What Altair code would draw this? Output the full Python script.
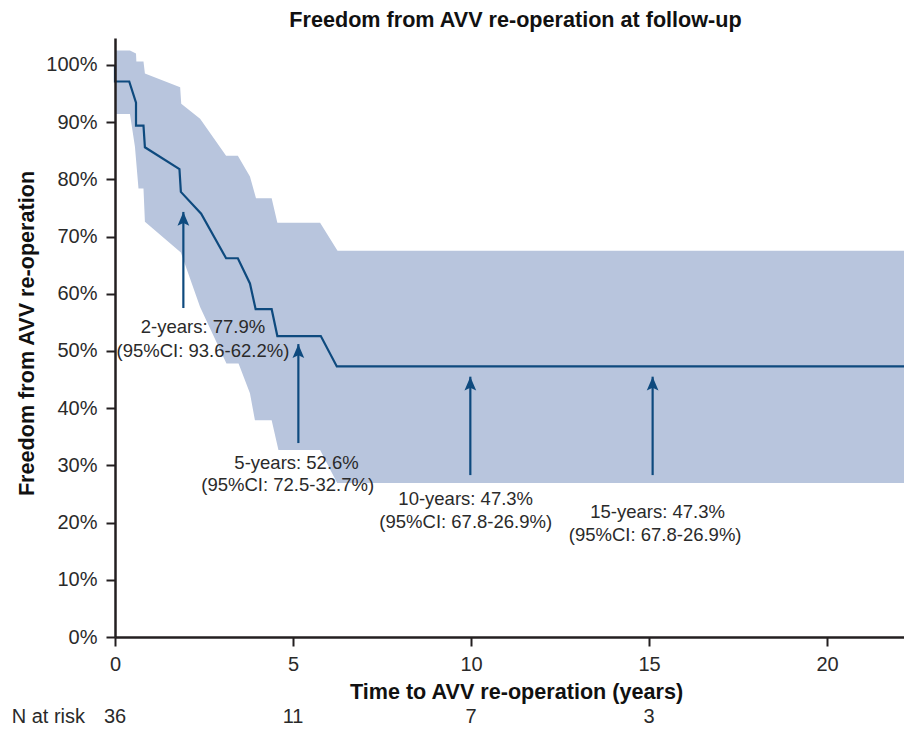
import altair as alt
import pandas as pd

# Kaplan-Meier estimate (years, %)
km_t = [0, 0.0, 0.40, 0.59, 0.59, 0.80, 0.84, 1.81, 1.85, 2.42, 3.12, 3.45, 3.79, 3.95, 4.40, 4.56, 5.78, 6.23, 22.16]
km_s = [100, 97.1, 97.1, 93.4, 89.4, 89.4, 85.6, 81.8, 77.8, 74.0, 66.2, 66.2, 61.8, 57.3, 57.3, 52.6, 52.6, 47.3, 47.3]

# 95% CI upper boundary
up_t = [0, 0.42, 0.59, 0.60, 0.80, 0.84, 1.83, 1.86, 2.39, 3.12, 3.45, 3.79, 3.96, 4.40, 4.56, 5.76, 6.25, 22.16]
up_s = [102.5, 102.5, 102.0, 100.6, 100.6, 98.5, 96.1, 93.2, 90.6, 84.1, 84.1, 80.5, 76.7, 76.7, 72.4, 72.4, 67.5, 67.5]

# 95% CI lower boundary
lo_t = [0, 0.42, 0.56, 0.66, 0.80, 0.84, 1.85, 2.39, 3.13, 3.47, 3.79, 3.93, 4.40, 4.59, 5.76, 6.24, 22.16]
lo_s = [91.4, 91.4, 85.7, 78.4, 78.4, 72.6, 67.2, 57.7, 47.8, 47.8, 42.6, 37.9, 37.9, 32.7, 32.7, 26.9, 26.9]

# Arrows (x, from, to)
arrow_x = [1.92, 5.15, 9.98, 15.1]
arrow_from = [57.5, 33.9, 28.3, 28.3]
arrow_to = [74.3, 51.2, 45.5, 45.5]

# Annotation text lines
ann_text = ["2-years: 77.9%", "(95%CI: 93.6-62.2%)",
            "5-years: 52.6%", "(95%CI: 72.5-32.7%)",
            "10-years: 47.3%", "(95%CI: 67.8-26.9%)",
            "15-years: 47.3%", "(95%CI: 67.8-26.9%)"]
ann_x = [2.47, 2.47, 5.10, 4.85, 9.85, 9.85, 15.24, 15.17]
ann_y = [54.2, 50.0, 30.4, 26.6, 24.1, 20.1, 21.9, 17.8]

# Numbers at risk
risk_t = [0, 5, 10, 15]
risk_n = ["36", "11", "7", "3"]

FONT = "Liberation Sans"
BAND = "#b8c5dd"
LINE = "#0e4a7e"
TXT = "#2a2a2a"

X_MAX = 22.16
xs = alt.Scale(domain=[0, X_MAX], nice=False, zero=False)
ys = alt.Scale(domain=[0, 104.7], nice=False)

km = pd.DataFrame({"t": km_t, "s": km_s, "o": range(len(km_t))})
up = pd.DataFrame({"t": up_t, "s": up_s, "z": [0] * len(up_t)})
lo = pd.DataFrame({"t": lo_t, "s": lo_s, "z": [0] * len(lo_t)})
arr = pd.DataFrame({"t": arrow_x, "a": arrow_from, "b": arrow_to})
ann = pd.DataFrame({"t": ann_x, "s": ann_y, "txt": ann_text})
risk = pd.DataFrame({"t": risk_t, "n": risk_n})

x_axis = alt.Axis(values=[0, 5, 10, 15, 20], title="Time to AVV re-operation (years)",
                  grid=False, labelFontSize=20, labelFont=FONT, labelColor=TXT,
                  labelPadding=8, labelFlush=False, tickSize=9, tickWidth=2, tickColor="#231f20",
                  domainColor="#231f20", domainWidth=2.5,
                  titleFont=FONT, titleFontSize=21.6, titleFontWeight="bold", titleColor="#111",
                  titleX=401, titleY=55, titleBaseline="middle", titleAlign="center",
                  zindex=2)
y_axis = alt.Axis(values=list(range(0, 101, 10)), labelExpr="datum.value + '%'",
                  title="Freedom from AVV re-operation",
                  grid=False, labelFontSize=20, labelFont=FONT, labelColor=TXT,
                  labelPadding=9, tickSize=9, tickWidth=2, tickColor="#231f20",
                  domainColor="#231f20", domainWidth=2.5,
                  titleFont=FONT, titleFontSize=21.6, titleFontWeight="bold", titleColor="#111",
                  titleX=-88, titleY=295, titleBaseline="middle", titleAlign="center",
                  zindex=2)

band_up = alt.Chart(up).mark_area(color=BAND, opacity=1, interpolate="linear").encode(
    x=alt.X("t:Q", scale=xs, axis=x_axis),
    y=alt.Y("s:Q", scale=ys, axis=y_axis, stack=None),
    y2="z:Q",
)
band_lo = alt.Chart(lo).mark_area(color="white", opacity=1, interpolate="linear").encode(
    x=alt.X("t:Q", scale=xs),
    y=alt.Y("s:Q", scale=ys, stack=None),
    y2="z:Q",
)
line = alt.Chart(km).mark_line(color=LINE, strokeWidth=2.2, interpolate="linear").encode(
    x=alt.X("t:Q", scale=xs),
    y=alt.Y("s:Q", scale=ys),
    order="o:Q",
)
shafts = alt.Chart(arr).mark_rule(color=LINE, strokeWidth=2.2).encode(
    x=alt.X("t:Q", scale=xs),
    y=alt.Y("a:Q", scale=ys),
    y2="b:Q",
)
heads = alt.Chart(arr).mark_point(
    shape="M0,-1L0.85,1L0,0.6L-0.85,1Z", filled=True, color=LINE, opacity=1,
    size=190, yOffset=7, strokeWidth=0,
).encode(
    x=alt.X("t:Q", scale=xs),
    y=alt.Y("b:Q", scale=ys),
)
texts = alt.Chart(ann).mark_text(font=FONT, fontSize=18.5, color=TXT, align="center",
                                 baseline="middle").encode(
    x=alt.X("t:Q", scale=xs),
    y=alt.Y("s:Q", scale=ys),
    text="txt:N",
)
risk_nums = alt.Chart(risk).mark_text(font=FONT, fontSize=20, color=TXT, align="center",
                                      baseline="alphabetic").encode(
    x=alt.X("t:Q", scale=xs),
    y=alt.value(685),
    text="n:N",
)
risk_lbl = alt.Chart(pd.DataFrame({"l": ["N at risk"]})).mark_text(
    font=FONT, fontSize=20, color=TXT, align="right", baseline="alphabetic").encode(
    x=alt.value(-30), y=alt.value(685), text="l:N")

chart = alt.layer(band_up, band_lo, line, shafts, heads, texts, risk_nums, risk_lbl).properties(
    width=789, height=599,
    title=alt.TitleParams("Freedom from AVV re-operation at follow-up", font=FONT,
                          fontSize=21.6, fontWeight="bold", color="#111", anchor="middle",
                          dx=6, offset=6),
    autosize=alt.AutoSizeParams(type="none"),
    padding={"left": 107, "top": 30, "right": 0, "bottom": 91},
).configure_view(strokeWidth=0)

chart.save("out.html", embed_options={"renderer": "svg", "actions": False})
